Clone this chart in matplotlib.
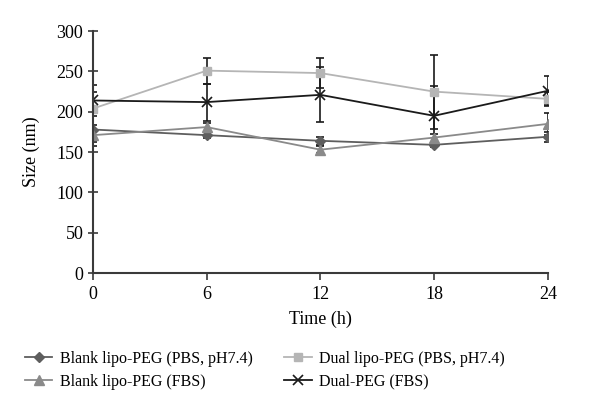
import matplotlib.pyplot as plt
from matplotlib.lines import Line2D

plt.rcParams['font.family'] = ['Liberation Serif', 'DejaVu Serif']

time_h = [0, 6, 12, 18, 24]

blank_pbs = [178, 171, 164, 159, 169]
blank_pbs_err = [20, 4, 5, 3, 6]

blank_fbs = [171, 181, 153, 168, 185]
blank_fbs_err = [8, 5, 4, 5, 14]

dual_pbs = [204, 251, 248, 225, 216]
dual_pbs_err = [21, 16, 19, 46, 9]

dual_fbs = [214, 212, 221, 195, 226]
dual_fbs_err = [19, 23, 34, 37, 18]

labels = ['Blank lipo-PEG (PBS, pH7.4)', 'Blank lipo-PEG (FBS)',
          'Dual lipo-PEG (PBS, pH7.4)', 'Dual-PEG (FBS)']

fig = plt.figure(figsize=(6, 4.15), dpi=100)
ax = fig.add_axes([0.155, 0.342, 0.758, 0.583])

err_kw = dict(ecolor='#1a1a1a', elinewidth=1.2, capsize=3, capthick=1.2)
styles = [
    dict(color='#5e5e5e', marker='D', markersize=5),
    dict(color='#8a8a8a', marker='^', markersize=7),
    dict(color='#b5b5b5', marker='s', markersize=6),
    dict(color='#1a1a1a', marker='x', markersize=7, mew=1.2),
]
series = [(blank_pbs, blank_pbs_err), (blank_fbs, blank_fbs_err),
          (dual_pbs, dual_pbs_err), (dual_fbs, dual_fbs_err)]

handles = []
for (vals, errs), st, lab in zip(series, styles, labels):
    ax.errorbar(time_h, vals, yerr=errs, lw=1.3, **st, **err_kw)
    handles.append(Line2D([], [], lw=1.3, label=lab, **st))

ax.set_xlim(0, 24)
ax.set_ylim(0, 300)
ax.set_xticks(time_h)
ax.set_yticks(range(0, 301, 50))
ax.set_xlabel('Time (h)', fontsize=13, labelpad=6)
ax.set_ylabel('Size (nm)', fontsize=13, labelpad=12)

for s in ['top', 'right']:
    ax.spines[s].set_visible(False)
for s in ['left', 'bottom']:
    ax.spines[s].set_color('#3a3a3a')
    ax.spines[s].set_linewidth(1.5)
ax.tick_params(axis='x', direction='out', length=5, width=1.2, color='#3a3a3a', labelsize=13, pad=4)
ax.tick_params(axis='y', direction='inout', length=7, width=1.2, color='#3a3a3a', labelsize=13)

fig.legend(handles=handles, loc='upper left', bbox_to_anchor=(0.042, 0.155),
           ncol=2, frameon=False, fontsize=11.5, handlelength=1.7,
           borderpad=0, borderaxespad=0,
           columnspacing=1.95, labelspacing=0.45, handletextpad=0.5)

fig.savefig('out.png', dpi=100)
